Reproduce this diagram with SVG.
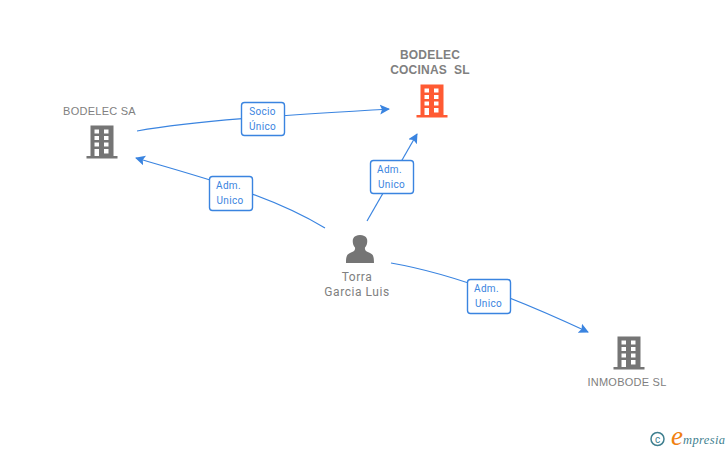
<svg xmlns="http://www.w3.org/2000/svg" xmlns:xlink="http://www.w3.org/1999/xlink" width="728" height="450" viewBox="0 0 728 450">
<style>
text{font-family:"Roboto","Liberation Sans",Arial,sans-serif}
.n{font-size:11px;fill:#808080;text-anchor:middle;letter-spacing:.25px;font-family:"Liberation Sans",Arial,sans-serif}
.nb{font-size:12px;fill:#808080;text-anchor:middle;font-weight:700;letter-spacing:.2px;font-family:"Liberation Sans",Arial,sans-serif}
.p{font-size:12px;fill:#808080;text-anchor:middle;letter-spacing:.55px}
.l{font-size:10px;fill:#3a84e0;text-anchor:middle;letter-spacing:.3px}
.c{fill:none;stroke:#3a84e0;stroke-width:1.2}
.b{fill:#fff;stroke:#3a84e0;stroke-width:1.4}
.ah{fill:#3a84e0}
</style>
<defs>
<marker id="a" markerWidth="11" markerHeight="11" refX="9" refY="5" orient="auto" markerUnits="userSpaceOnUse"><path class="ah" d="M0 0L10 5L0 10L2 5Z"/></marker>
<path id="bld" fill-rule="evenodd" d="M-11.500-16.500H11.500V14H15.500V16.500H-15.500V14H-11.500ZM-7.500-12.500V-8.500H-3V-12.500ZM2-12.500V-8.500H6.500V-12.500ZM-7.500-6V-2H-3V-6ZM2-6V-2H6.500V-6ZM-7.500 .5V4.500H-3V.5ZM2 .5V4.500H6.500V.5ZM-7.500 7V14H-3V7ZM2 7V11.500H6.500V7Z"/>
</defs>
<g id="connectors">
<path class="c" marker-end="url(#a)" d="M137 131C200 120 290 115 389 109"/>
<path class="c" marker-end="url(#a)" d="M325 228C270 195 210 180 136 158"/>
<path class="c" marker-end="url(#a)" d="M367 221L417 134"/>
<path class="c" marker-end="url(#a)" d="M391 263C460 275 530 305 588 332"/>
</g>
<g id="label-socio"><rect class="b" x="241.500" y="102.500" width="43" height="33" rx="3"/><text class="l" x="262.500" y="115">Socio</text><text class="l" x="262.500" y="130">Único</text></g>
<g id="label-adm1"><rect class="b" x="209.500" y="176.500" width="43" height="34" rx="3"/><text class="l" x="228.500" y="189">Adm.</text><text class="l" x="230" y="204">Unico</text></g>
<g id="label-adm2"><rect class="b" x="370.500" y="160.500" width="43" height="33" rx="3"/><text class="l" x="389.500" y="173">Adm.</text><text class="l" x="391.500" y="188">Unico</text></g>
<g id="label-adm3"><rect class="b" x="467.500" y="279.500" width="43" height="34" rx="3"/><text class="l" x="486.500" y="292">Adm.</text><text class="l" x="488.500" y="307">Unico</text></g>
<g id="node-bodelec-cocinas"><text class="nb" x="430" y="59">BODELEC</text><text class="nb" x="430" y="74" xml:space="preserve">COCINAS  SL</text><use xlink:href="#bld" href="#bld" x="432" y="101" fill="#ff5a33"/></g>
<g id="node-bodelec-sa"><text class="n" x="99.500" y="115">BODELEC SA</text><use xlink:href="#bld" href="#bld" x="102" y="142" fill="#757575"/></g>
<g id="node-inmobode"><text class="n" x="627" y="386">INMOBODE SL</text><use xlink:href="#bld" href="#bld" x="629" y="353" fill="#757575"/></g>
<g id="node-torra"><path fill="#757575" d="M346 263C346 256 347 254 351 252.500C354 251.500 355.500 250 355 247.500C352.500 245 352.500 241 353 239C354 236 357 235 360 235C363 235 366 236 367 239C367.500 241 367.500 245 365 247.500C364.500 250 366 251.500 369 252.500C373 254 374 256 374 263Z"/><text class="p" x="357" y="281">Torra</text><text class="p" x="357" y="296">Garcia Luis</text></g>
<g id="brand"><circle cx="657.500" cy="439" r="6.500" fill="none" stroke="#3f7f8f" stroke-width="1.500"/><text x="657.500" y="442.500" font-size="10" fill="#3f7f8f" text-anchor="middle">c</text><text x="677" y="445" font-size="27" fill="#f08010" font-style="italic" text-anchor="middle" style="font-family:'Liberation Serif',serif">e</text><text x="683" y="444" font-size="12.500" fill="#3f7f8f" font-style="italic" textLength="42" style="font-family:'Liberation Serif',serif">mpresia</text></g>
</svg>
